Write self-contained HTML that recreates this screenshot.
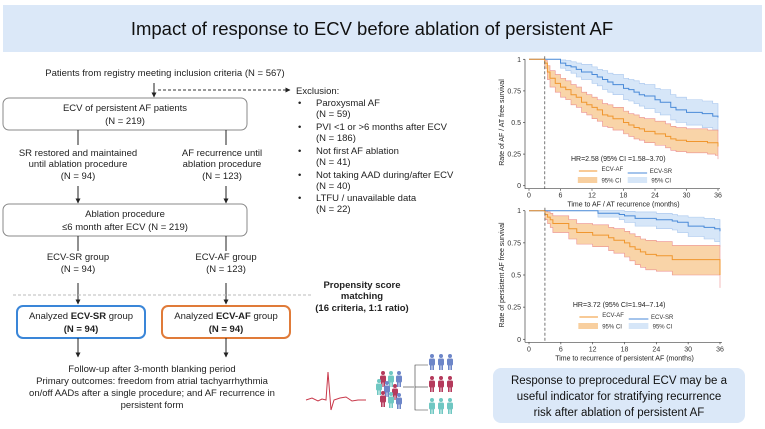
<!DOCTYPE html>
<html><head><meta charset="utf-8"><style>
html,body{margin:0;padding:0;background:#fff;}
svg{display:block;font-family:"Liberation Sans",sans-serif;}
</style></head><body>
<svg id="root" width="765" height="429" viewBox="0 0 765 429">
<defs>
<marker id="ah" viewBox="0 0 10 10" refX="9" refY="5" markerWidth="5" markerHeight="5" orient="auto"><path d="M0,0L10,5L0,10z" fill="#222"/></marker>
</defs>
<rect x="3" y="5" width="759" height="47" fill="#dbe8f8"/>
<text x="372" y="35" font-size="18.5" text-anchor="middle" fill="#111">Impact of response to ECV before ablation of persistent AF</text>

<g font-size="9.5" fill="#222" text-anchor="middle">
<text x="165" y="76">Patients from registry meeting inclusion criteria (N = 567)</text>
<line x1="154" y1="83" x2="154" y2="97" stroke="#222" marker-end="url(#ah)"/>
<line x1="158" y1="90" x2="290" y2="90" stroke="#333" stroke-dasharray="3,2" marker-end="url(#ah)"/>
<rect x="3" y="98" width="244" height="32" rx="6" fill="#fff" stroke="#888"/>
<text x="125" y="111">ECV of persistent AF patients</text><text x="125" y="124">(N = 219)</text>
<line x1="78" y1="130" x2="78" y2="145" stroke="#222"/><line x1="226" y1="130" x2="226" y2="145" stroke="#222"/>
<text x="78" y="156">SR restored and maintained</text><text x="78" y="167">until ablation procedure</text><text x="78" y="179">(N = 94)</text>
<text x="222" y="156">AF recurrence until</text><text x="222" y="167">ablation procedure</text><text x="222" y="179">(N = 123)</text>
<line x1="78" y1="186" x2="78" y2="203" stroke="#222" marker-end="url(#ah)"/><line x1="226" y1="186" x2="226" y2="203" stroke="#222" marker-end="url(#ah)"/>
<rect x="3" y="204" width="244" height="32" rx="6" fill="#fff" stroke="#888"/>
<text x="125" y="217">Ablation procedure</text><text x="125" y="230">≤6 month after ECV (N = 219)</text>
<line x1="78" y1="236" x2="78" y2="251" stroke="#222"/><line x1="226" y1="236" x2="226" y2="251" stroke="#222"/>
<text x="78" y="260">ECV-SR group</text><text x="78" y="272">(N = 94)</text>
<text x="226" y="260">ECV-AF group</text><text x="226" y="272">(N = 123)</text>
<line x1="78" y1="283" x2="78" y2="304" stroke="#222" marker-end="url(#ah)"/><line x1="226" y1="283" x2="226" y2="304" stroke="#222" marker-end="url(#ah)"/>
<line x1="13" y1="295" x2="312" y2="295" stroke="#bbb" stroke-dasharray="3,2"/>
<rect x="17" y="306" width="128" height="32" rx="6" fill="#fff" stroke="#3a86d8" stroke-width="2"/>
<text x="81" y="319">Analyzed <tspan font-weight="bold">ECV-SR</tspan> group</text><text x="81" y="332" font-weight="bold">(N = 94)</text>
<rect x="162" y="306" width="128" height="32" rx="6" fill="#fff" stroke="#e07b39" stroke-width="2"/>
<text x="226" y="319">Analyzed <tspan font-weight="bold">ECV-AF</tspan> group</text><text x="226" y="332" font-weight="bold">(N = 94)</text>
<line x1="78" y1="338" x2="78" y2="357" stroke="#222" marker-end="url(#ah)"/><line x1="226" y1="338" x2="226" y2="357" stroke="#222" marker-end="url(#ah)"/>
<text x="152" y="372">Follow-up after 3-month blanking period</text>
<text x="152" y="384">Primary outcomes: freedom from atrial tachyarrhythmia</text>
<text x="152" y="396">on/off AADs after a single procedure; and AF recurrence in</text>
<text x="152" y="408">persistent form</text>
<g font-weight="bold"><text x="362" y="288">Propensity score</text><text x="362" y="299">matching</text><text x="362" y="311">(16 criteria, 1:1 ratio)</text></g>
</g>

<g font-size="9.5" fill="#222">
<text x="296" y="94">Exclusion:</text>
<text x="298" y="106">•</text><text x="316" y="106">Paroxysmal AF</text><text x="316" y="117">(N = 59)</text>
<text x="298" y="130">•</text><text x="316" y="130">PVI &lt;1 or &gt;6 months after ECV</text><text x="316" y="141">(N = 186)</text>
<text x="298" y="154">•</text><text x="316" y="154">Not first AF ablation</text><text x="316" y="165">(N = 41)</text>
<text x="298" y="178">•</text><text x="316" y="178">Not taking AAD during/after ECV</text><text x="316" y="189">(N = 40)</text>
<text x="298" y="201">•</text><text x="316" y="201">LTFU / unavailable data</text><text x="316" y="212">(N = 22)</text>
</g>

<polyline points="306,400 312,398 318,401 322,399 326,400 328,372 331,410 334,400 340,398 346,397 352,401 358,400 366,400" fill="none" stroke="#c8384a" stroke-width="1"/>
<g id="people"></g>

<rect x="493" y="368" width="252" height="55" rx="8" fill="#dbe8f8"/>
<g font-size="11.5" fill="#111" text-anchor="middle">
<text x="619" y="384">Response to preprocedural ECV may be a</text>
<text x="619" y="400">useful indicator for stratifying recurrence</text>
<text x="619" y="416">risk after ablation of persistent AF</text>
</g>
<g id="km1"></g>
<g id="km2"></g>
</svg>
<script>
// Chart 1: AF/AT free survival
const c1AfTimes=[0,3,3.5,4,5,6,7,8,9,10,11,12,13,14,15,16,18,19,20,21,22,24,26,27,28,30,32,34,35.5,36];
const c1AfSurv=[1,0.97,0.9,0.85,0.81,0.78,0.76,0.72,0.7,0.66,0.64,0.62,0.6,0.56,0.55,0.53,0.5,0.48,0.46,0.45,0.43,0.41,0.39,0.37,0.36,0.35,0.35,0.34,0.34,0.31];
const c1AfLo=[1,0.93,0.84,0.78,0.74,0.7,0.68,0.64,0.62,0.58,0.56,0.53,0.51,0.47,0.46,0.44,0.41,0.39,0.37,0.36,0.34,0.32,0.3,0.28,0.27,0.26,0.26,0.25,0.24,0.21];
const c1AfHi=[1,0.99,0.95,0.91,0.88,0.85,0.83,0.8,0.78,0.74,0.72,0.7,0.68,0.65,0.64,0.62,0.59,0.57,0.56,0.54,0.53,0.51,0.49,0.47,0.46,0.45,0.45,0.44,0.44,0.42];
const c1SrTimes=[0,6,7,8,9,10,12,13,14,15,16,18,19,20,21,22,24,25,27,28,30,33,35,36];
const c1SrSurv=[1,0.97,0.95,0.94,0.92,0.9,0.88,0.86,0.84,0.82,0.8,0.77,0.76,0.74,0.72,0.71,0.68,0.66,0.62,0.6,0.58,0.57,0.55,0.54];
const c1SrLo=[1,0.93,0.91,0.89,0.86,0.84,0.81,0.79,0.76,0.74,0.72,0.68,0.67,0.65,0.63,0.61,0.58,0.56,0.52,0.5,0.48,0.46,0.44,0.43];
const c1SrHi=[1,0.995,0.99,0.98,0.97,0.96,0.94,0.92,0.91,0.89,0.88,0.85,0.84,0.83,0.81,0.8,0.77,0.76,0.72,0.7,0.68,0.67,0.65,0.64];
// Chart 2: persistent AF free survival
const c2AfTimes=[0,3,3.5,4,4.5,7.5,9,12,15,16,18,19,20,21,22,24,27,35.5,36];
const c2AfSurv=[1,0.97,0.95,0.93,0.9,0.86,0.83,0.81,0.79,0.77,0.75,0.72,0.7,0.68,0.66,0.65,0.62,0.62,0.5];
const c2AfLo=[1,0.93,0.9,0.87,0.83,0.78,0.74,0.72,0.69,0.67,0.64,0.61,0.58,0.56,0.54,0.53,0.5,0.5,0.4];
const c2AfHi=[1,0.995,0.99,0.98,0.96,0.93,0.9,0.89,0.87,0.86,0.84,0.82,0.8,0.78,0.77,0.76,0.73,0.73,0.62];
const c2SrTimes=[0,13,17,18,20,24,27,28,30,33,35,36];
const c2SrSurv=[1,0.98,0.97,0.96,0.94,0.93,0.92,0.91,0.88,0.87,0.86,0.84];
const c2SrLo=[1,0.95,0.93,0.91,0.88,0.86,0.85,0.83,0.8,0.78,0.76,0.72];
const c2SrHi=[1,1,1,0.995,0.99,0.98,0.97,0.96,0.95,0.94,0.93,0.92];
const xTicks=[0,6,12,18,24,30,36];
const yTicks=[0,0.25,0.5,0.75,1];
const yTickLabels=['0','0.25','0.5','0.75','1'];
const NS='http://www.w3.org/2000/svg';
function mk(tag,attrs,parent){const e=document.createElementNS(NS,tag);for(const k in attrs)e.setAttribute(k,attrs[k]);parent.appendChild(e);return e;}
function stepPath(ts,vs,sx,sy,tEnd){let d='M'+sx(ts[0])+','+sy(vs[0]);for(let i=1;i<ts.length;i++){d+='H'+sx(ts[i])+'V'+sy(vs[i]);}d+='H'+sx(tEnd);return d;}
function bandPath(ts,lo,hi,sx,sy,tEnd){let d=stepPath(ts,hi,sx,sy,tEnd);let pts=[];pts.push([tEnd,lo[lo.length-1]]);for(let i=ts.length-1;i>=0;i--){pts.push([ts[i],lo[i]]);if(i>0)pts.push([ts[i],lo[i-1]]);}
pts.forEach(p=>{d+='L'+sx(p[0])+','+sy(p[1]);});return d+'Z';}
function drawKM(g,cfg){
 const sx=t=>cfg.x0+(cfg.x1-cfg.x0)*t/36, sy=v=>cfg.y0+(cfg.y1-cfg.y0)*v;
 const ax=mk('g',{},g);
 
 
 mk('line',{x1:cfg.x0-4,y1:sy(1),x2:cfg.x0-4,y2:sy(0)+3,stroke:'#444','stroke-width':0.7},ax);
 mk('line',{x1:cfg.x0-4,y1:sy(0)+3,x2:sx(36)+2,y2:sy(0)+3,stroke:'#444','stroke-width':0.7},ax);
 yTicks.forEach((v,i)=>{mk('line',{x1:cfg.x0-6,y1:sy(v),x2:cfg.x0-4,y2:sy(v),stroke:'#444','stroke-width':0.7},ax);
  const t=mk('text',{x:cfg.x0-8,y:sy(v)+2.5,'font-size':7,'text-anchor':'end',fill:'#333'},ax);t.textContent=yTickLabels[i];
  
  });
 xTicks.forEach(v=>{mk('line',{x1:sx(v),y1:sy(0)+3,x2:sx(v),y2:sy(0)+5,stroke:'#444','stroke-width':0.7},ax);
  const t=mk('text',{x:sx(v),y:sy(0)+12,'font-size':7,'text-anchor':'middle',fill:'#333'},ax);t.textContent=v;
  
  });
 const xt=mk('text',{x:(cfg.x0+cfg.x1)/2,y:sy(0)+21,'font-size':7,'text-anchor':'middle',fill:'#222'},ax);xt.textContent=cfg.xTitle;
 
 
 const cy=(sy(0)+sy(1))/2;
 const yt=mk('text',{x:cfg.x0-25,y:cy,'font-size':7,'text-anchor':'middle',fill:'#222',transform:`rotate(-90 ${cfg.x0-25} ${cy})`},ax);yt.textContent=cfg.yTitle;
 
 
 const b1=mk('path',{d:bandPath(cfg.srT,cfg.srLo,cfg.srHi,sx,sy,36),fill:'#d6e6f8',stroke:'#a9c7ee','stroke-width':0.6},g);
 
 
 const b2=mk('path',{d:bandPath(cfg.afT,cfg.afLo,cfg.afHi,sx,sy,36),fill:'#f8cf9f','fill-opacity':0.9,stroke:'#ec8f8f','stroke-width':0.6},g);
 
 
 const l1=mk('path',{d:stepPath(cfg.srT,cfg.srS,sx,sy,36),fill:'none',stroke:'#4a8ad8','stroke-width':1},g);
 
 
 const l2=mk('path',{d:stepPath(cfg.afT,cfg.afS,sx,sy,36),fill:'none',stroke:'#f0962e','stroke-width':1},g);
 
 
 const dl=mk('line',{x1:sx(3),y1:sy(1)-3,x2:sx(3),y2:sy(0)+3,stroke:'#555','stroke-dasharray':'3,2','stroke-width':0.8},g);
 
 
 const lg=mk('g',{},g);
 
 
 const ly=cfg.legY;
 const hr=mk('text',{x:sx(17),y:ly,'font-size':7,'text-anchor':'middle',fill:'#222'},lg);hr.textContent=cfg.hr;
 mk('line',{x1:sx(9.5),y1:ly+10,x2:sx(13),y2:ly+10,stroke:'#f0962e'},lg);
 let t=mk('text',{x:sx(13.8),y:ly+10,'font-size':6,fill:'#333'},lg);t.textContent='ECV-AF';
 mk('line',{x1:sx(18.8),y1:ly+12,x2:sx(22.5),y2:ly+12,stroke:'#4a8ad8'},lg);
 t=mk('text',{x:sx(23),y:ly+12,'font-size':6,fill:'#333'},lg);t.textContent='ECV-SR';
 mk('rect',{x:sx(9.3),y:ly+16,width:sx(13)-sx(9.3),height:6,fill:'#f8cf9f'},lg);
 t=mk('text',{x:sx(13.8),y:ly+21.5,'font-size':6,fill:'#333'},lg);t.textContent='95% CI';
 mk('rect',{x:sx(18.8),y:ly+16,width:sx(22.5)-sx(18.8),height:6,fill:'#d6e6f8'},lg);
 t=mk('text',{x:sx(23.3),y:ly+21.5,'font-size':6,fill:'#333'},lg);t.textContent='95% CI';
}
drawKM(document.getElementById('km1'),{x0:529,x1:718,y0:185.7,y1:59.3,xTitle:'Time to AF / AT recurrence (months)',yTitle:'Rate of AF / AT free survival',hr:'HR=2.58 (95% CI =1.58–3.70)',legY:161,
 afT:c1AfTimes,afS:c1AfSurv,afLo:c1AfLo,afHi:c1AfHi,srT:c1SrTimes,srS:c1SrSurv,srLo:c1SrLo,srHi:c1SrHi});
drawKM(document.getElementById('km2'),{x0:529,x1:720,y0:339.3,y1:210.7,xTitle:'Time to recurrence of persistent AF (months)',yTitle:'Rate of persistent AF free survival',hr:'HR=3.72 (95% CI=1.94–7.14)',legY:307,
 afT:c2AfTimes,afS:c2AfSurv,afLo:c2AfLo,afHi:c2AfHi,srT:c2SrTimes,srS:c2SrSurv,srLo:c2SrLo,srHi:c2SrHi});
// people icon
const pg=document.getElementById('people');
function person(x,y,c){mk('circle',{cx:x,cy:y,r:2,fill:c},pg);mk('rect',{x:x-3,y:y+2.5,width:6,height:7,rx:1.5,fill:c},pg);mk('rect',{x:x-2,y:y+9,width:1.6,height:5,fill:c},pg);mk('rect',{x:x+0.4,y:y+9,width:1.6,height:5,fill:c},pg);}
const cols=['#b53a5c','#6fc7c2','#6d86c8'];
[[383,373,0],[391,373,1],[399,373,2],[379,381,1],[387,383,2],[395,386,0],[383,393,0],[391,394,1],[399,395,2]].forEach(p=>person(p[0],p[1],cols[p[2]]));
mk('line',{x1:403,y1:387,x2:414,y2:387,stroke:'#333','stroke-width':0.6},pg);
mk('polyline',{points:'428,365 415,365 415,410 428,410',fill:'none',stroke:'#333','stroke-width':0.6},pg);
mk('line',{x1:415,y1:387,x2:428,y2:387,stroke:'#333','stroke-width':0.6},pg);
[[2,361],[0,383],[1,405]].forEach(r=>{for(let k=0;k<3;k++)person(432+k*9,r[1]-5,cols[r[0]]);});
</script>
</body></html>
